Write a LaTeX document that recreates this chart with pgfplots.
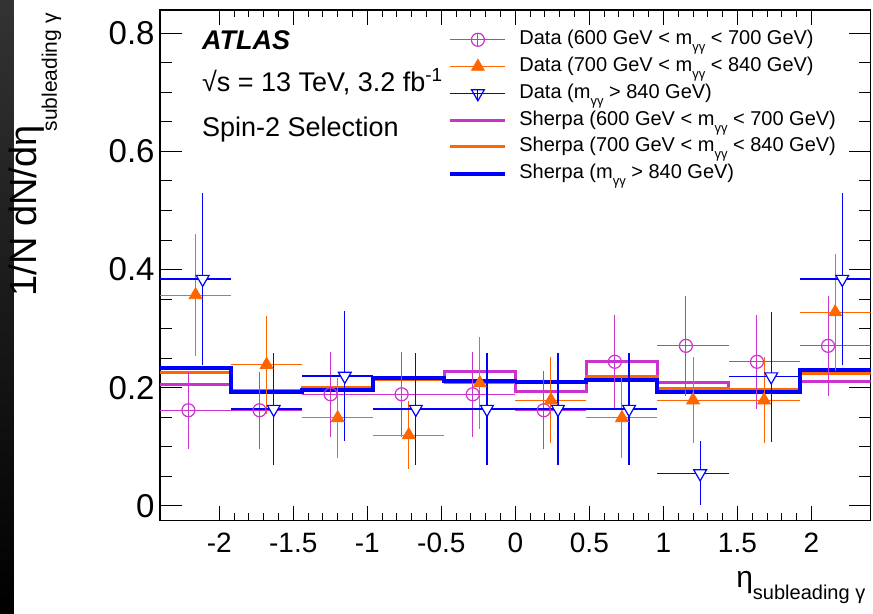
\documentclass[border=0pt]{standalone}
\usepackage{pgfplots}
\pgfplotsset{compat=1.18}
\usepackage{fontspec}
\setmainfont{Liberation Sans}
\definecolor{mag}{RGB}{204,51,204}
\definecolor{orng}{RGB}{255,102,0}
\definecolor{blu}{RGB}{0,0,255}
\newcommand\sub[1]{\raisebox{-3.5pt}{\fontsize{6.5}{6.5}\selectfont #1}}
\begin{document}
\begin{tikzpicture}
\path[use as bounding box] (-80pt,-46.65pt) rectangle (356.5pt,260.35pt);
\shade[top color=black!80, bottom color=black] (-80pt,-46.65pt) rectangle (-73pt,260.35pt);
\begin{axis}[
  at={(0pt,0pt)}, anchor=south west,
  width=355.35pt, height=255.35pt, scale only axis,
  xmin=-2.4, xmax=2.4, ymin=-0.0249, ymax=0.8393,
  xtick={-2,-1.5,-1,-0.5,0,0.5,1,1.5,2}, ytick={0,0.2,0.4,0.6,0.8},
  minor x tick num=4, minor y tick num=3,
  tick align=inside, xtick pos=both, ytick pos=both,
  xticklabel pos=lower, yticklabel pos=left,
  major tick length=10.8pt, minor tick length=5.8pt,
  xtick style={/pgfplots/major tick length=7.3pt, /pgfplots/minor tick length=3.7pt},
  every tick/.style={black, line width=0.5pt},
  axis line style={line width=0.6pt},
  /pgf/number format/assume math mode=true,
  xticklabel style={font=\fontsize{14}{14}\selectfont, inner sep=0pt, yshift=-6.1pt},
  yticklabel style={font=\fontsize{16.5}{16.5}\selectfont, inner sep=0pt, xshift=-2.5pt},
  every axis y label/.style={at={(rel axis cs:0,1)}, xshift=-61.5pt, yshift=-1.5pt, rotate=90, anchor=base east, inner sep=0pt},
  every axis x label/.style={at={(rel axis cs:1,0)}, xshift=-2.5pt, yshift=-33.6pt, anchor=base east, inner sep=0pt},
  ylabel={{\fontsize{19}{19}\selectfont 1/N dN/dη}\kern-3pt\raisebox{-10pt}{\fontsize{10.5}{10.5}\selectfont subleading γ}},
  xlabel={{\fontsize{15}{15}\selectfont η}\raisebox{-6pt}{\fontsize{10}{10}\selectfont subleading γ}},
  legend style={at={(rel axis cs:0,1)}, anchor=north west, xshift=144pt, yshift=-10pt,
    draw=none, fill=none, inner sep=0pt, row sep=4pt, column sep=6pt,
    font=\fontsize{10}{10}\selectfont,
    nodes={inner sep=0pt, text height=7.2pt, text depth=2.2pt}},
  legend cell align=left,
]
% Sherpa histograms
\addplot[const plot, line width=1.5pt, color=mag, forget plot] coordinates {
(-2.4,0.206) (-1.92,0.193) (-1.44,0.196) (-0.96,0.214) (-0.48,0.228) (0,0.194) (0.48,0.244) (0.96,0.209) (1.44,0.196) (1.92,0.210) (2.4,0.210)};
\addplot[const plot, line width=1.5pt, color=orng, forget plot] coordinates {
(-2.4,0.226) (-1.92,0.195) (-1.44,0.200) (-0.96,0.214) (-0.48,0.210) (0,0.210) (0.48,0.219) (0.96,0.199) (1.44,0.197) (1.92,0.2245) (2.4,0.2245)};
\addplot[const plot, line width=2pt, color=blu, forget plot] coordinates {
(-2.4,0.2335) (-1.92,0.1934) (-1.44,0.197) (-0.96,0.216) (-0.48,0.212) (0,0.210) (0.48,0.214) (0.96,0.1935) (1.44,0.1935) (1.92,0.230) (2.4,0.230)};
% Data 600-700
\addplot[only marks, color=mag, mark=o, mark size=3.25pt, mark options={line width=0.6pt}, forget plot,
  error bars/.cd, x dir=both, x explicit, y dir=both, y explicit, error mark=none,
  error bar style={line width=0.5pt}] coordinates {
(-2.208,0.162) += (0.288,0.065) -= (0.192,0.065)
(-1.728,0.162) += (0.288,0.065) -= (0.192,0.065)
(-1.248,0.189) += (0.288,0.072) -= (0.192,0.072)
(-0.768,0.189) += (0.288,0.072) -= (0.192,0.072)
(-0.288,0.189) += (0.288,0.072) -= (0.192,0.072)
(0.192,0.162) += (0.288,0.066) -= (0.192,0.066)
(0.672,0.244) += (0.288,0.080) -= (0.192,0.080)
(1.152,0.271) += (0.288,0.085) -= (0.192,0.085)
(1.632,0.244) += (0.288,0.080) -= (0.192,0.080)
(2.112,0.271) += (0.288,0.085) -= (0.192,0.085)};
% Data 700-840
\addplot[only marks, color=orng, mark=triangle*, mark size=3.7pt, mark options={fill=orng}, forget plot,
  error bars/.cd, x dir=both, x explicit, y dir=both, y explicit, error mark=none,
  error bar style={line width=0.5pt}] coordinates {
(-2.16,0.357) +- (0.24,0.103)
(-1.68,0.239) +- (0.24,0.083)
(-1.20,0.149) +- (0.24,0.067)
(-0.72,0.120) +- (0.24,0.058)
(-0.24,0.208) +- (0.24,0.078)
(0.24,0.179) +- (0.24,0.073)
(0.72,0.149) +- (0.24,0.067)
(1.20,0.179) +- (0.24,0.073)
(1.68,0.179) +- (0.24,0.073)
(2.16,0.328) +- (0.24,0.099)};
% Data >840
\addplot[only marks, color=blu, mark=triangle*, mark size=3.7pt, mark options={rotate=180, fill=white, draw=blu, line width=0.6pt}, forget plot,
  error bars/.cd, x dir=both, x explicit, y dir=both, y explicit, error mark=none,
  error bar style={line width=0.6pt}] coordinates {
(-2.112,0.384) += (0.192,0.145) -= (0.288,0.145)
(-1.632,0.164) += (0.192,0.095) -= (0.288,0.095)
(-1.152,0.220) += (0.192,0.110) -= (0.288,0.110)
(-0.672,0.164) += (0.192,0.095) -= (0.288,0.095)
(-0.192,0.164) += (0.192,0.095) -= (0.288,0.095)
(0.288,0.164) += (0.192,0.095) -= (0.288,0.095)
(0.768,0.164) += (0.192,0.095) -= (0.288,0.095)
(1.248,0.055) += (0.192,0.055) -= (0.288,0.053)
(1.728,0.219) += (0.192,0.110) -= (0.288,0.110)
(2.208,0.384) += (0.192,0.145) -= (0.288,0.145)};
% legend
\addlegendimage{legend image code/.code={
  \draw[mag, line width=0.5pt] (0pt,0pt) -- (27.5pt,0pt);
  \draw[mag, line width=0.5pt] (13.75pt,-3.25pt) -- (13.75pt,3.25pt);
  \draw[mag, line width=0.6pt] (13.75pt,0pt) circle (3.25pt);}}
\addlegendentry{Data (600 GeV < m\sub{γγ} < 700 GeV)}
\addlegendimage{legend image code/.code={
  \draw[orng, line width=0.5pt] (0pt,0pt) -- (27.5pt,0pt);
  \fill[orng] (13.75pt,3.7pt) -- (10.55pt,-1.85pt) -- (16.95pt,-1.85pt) -- cycle;}}
\addlegendentry{Data (700 GeV < m\sub{γγ} < 840 GeV)}
\addlegendimage{legend image code/.code={
  \draw[blu, line width=0.5pt] (0pt,0pt) -- (27.5pt,0pt);
  \draw[blu, line width=0.5pt] (13.75pt,-3.7pt) -- (13.75pt,1.85pt);
  \draw[blu, line width=0.6pt] (13.75pt,-3.7pt) -- (10.55pt,1.85pt) -- (16.95pt,1.85pt) -- cycle;}}
\addlegendentry{Data (m\sub{γγ} > 840 GeV)}
\addlegendimage{legend image code/.code={\draw[mag, line width=1.5pt] (0pt,0pt) -- (27.5pt,0pt);}}
\addlegendentry{Sherpa (600 GeV < m\sub{γγ} < 700 GeV)}
\addlegendimage{legend image code/.code={\draw[orng, line width=1.5pt] (0pt,0pt) -- (27.5pt,0pt);}}
\addlegendentry{Sherpa (700 GeV < m\sub{γγ} < 840 GeV)}
\addlegendimage{legend image code/.code={\draw[blu, line width=2pt] (0pt,0pt) -- (27.5pt,0pt);}}
\addlegendentry{Sherpa (m\sub{γγ} > 840 GeV)}
% text
\node[anchor=base west, inner sep=0pt, font=\fontsize{13.5}{13.5}\selectfont\bfseries\itshape, xshift=20.85pt, yshift=-20pt] at (rel axis cs:0,1) {ATLAS};
\node[anchor=base west, inner sep=0pt, font=\fontsize{13.5}{13.5}\selectfont, xshift=20.85pt, yshift=-40.85pt] at (rel axis cs:0,1) {√s = 13 TeV, 3.2 fb\textsuperscript{-1}};
\node[anchor=base west, inner sep=0pt, font=\fontsize{13.5}{13.5}\selectfont, xshift=20.85pt, yshift=-63.35pt] at (rel axis cs:0,1) {Spin-2 Selection};
\end{axis}
\end{tikzpicture}
\end{document}
